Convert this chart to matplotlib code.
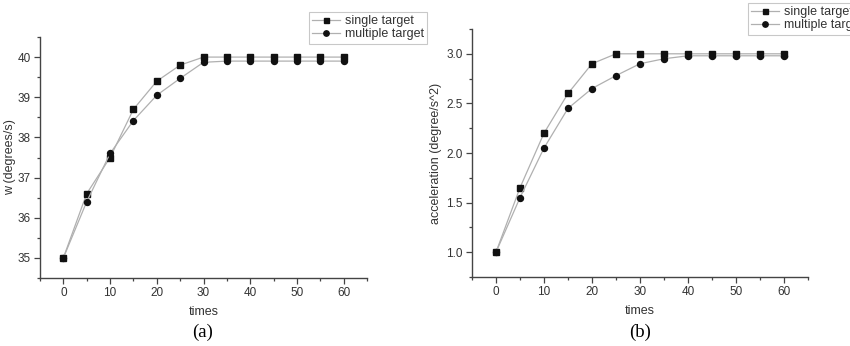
import matplotlib
matplotlib.use("Agg")
import matplotlib.pyplot as plt
from matplotlib.ticker import MultipleLocator

plt.rcParams['font.family'] = ['Liberation Sans', 'DejaVu Sans']

times = [0, 5, 10, 15, 20, 25, 30, 35, 40, 45, 50, 55, 60]
w_single = [35.0, 36.6, 37.5, 38.7, 39.4, 39.8, 40.0, 40.0, 40.0, 40.0, 40.0, 40.0, 40.0]
w_multiple = [35.0, 36.4, 37.6, 38.42, 39.05, 39.47, 39.87, 39.9, 39.9, 39.9, 39.9, 39.9, 39.9]
acc_single = [1.0, 1.65, 2.2, 2.6, 2.9, 3.0, 3.0, 3.0, 3.0, 3.0, 3.0, 3.0, 3.0]
acc_multiple = [1.0, 1.55, 2.05, 2.45, 2.65, 2.78, 2.9, 2.95, 2.98, 2.98, 2.98, 2.98, 2.98]
labels = ["single target", "multiple target"]

fig = plt.figure(figsize=(8.5, 3.46), dpi=100)
ax1 = fig.add_axes([40/850, 1-278/346, (367-40)/850, (278-37)/346])
ax2 = fig.add_axes([472/850, 1-277/346, (808-472)/850, (277-29)/346])

line_c = "#b0b0b0"
spine_c = "#444444"
text_c = "#333333"

def style(ax, ylim, ymaj, ymin):
    ax.set_xlim(-5, 65)
    ax.set_ylim(*ylim)
    for s in ["top", "right"]:
        ax.spines[s].set_visible(False)
    for s in ["left", "bottom"]:
        ax.spines[s].set_color(spine_c)
        ax.spines[s].set_linewidth(1.0)
    ax.xaxis.set_major_locator(MultipleLocator(10))
    ax.xaxis.set_minor_locator(MultipleLocator(5))
    ax.yaxis.set_major_locator(MultipleLocator(ymaj))
    ax.yaxis.set_minor_locator(MultipleLocator(ymin))
    ax.tick_params(which="major", direction="out", length=4, width=0.9, color=spine_c,
                   labelsize=8.5, labelcolor=text_c, pad=2.5)
    ax.tick_params(which="minor", direction="out", length=2.5, width=0.9, color=spine_c)

def draw(ax, s, m):
    l1, = ax.plot(times, s, color=line_c, lw=0.9, marker="s", ms=4,
                  mfc="#111111", mec="#111111", label=labels[0])
    l2, = ax.plot(times, m, color=line_c, lw=0.9, marker="o", ms=4.3,
                  mfc="#111111", mec="#111111", label=labels[1])
    return l1, l2

h1 = draw(ax1, w_single, w_multiple)
style(ax1, (34.5, 40.5), 1, 0.5)
ax1.set_yticks([35, 36, 37, 38, 39, 40])
ax1.set_xlabel("times", fontsize=9, color=text_c, labelpad=5)
ax1.set_ylabel("w (degrees/s)", fontsize=9, color=text_c, labelpad=1)

h2 = draw(ax2, acc_single, acc_multiple)
style(ax2, (0.75, 3.25), 0.5, 0.25)
ax2.set_yticks([1.0, 1.5, 2.0, 2.5, 3.0])
ax2.set_xlabel("times", fontsize=9, color=text_c, labelpad=5)
ax2.set_ylabel("acceleration (degree/s^2)", fontsize=9, color=text_c, labelpad=3)

legkw = dict(fontsize=9, frameon=True, fancybox=False, edgecolor="#bbbbbb",
             handlelength=2.2, handletextpad=0.4, borderpad=0.25, labelspacing=0.1,
             markerscale=0.9, borderaxespad=0)
leg1 = fig.legend(h1, labels, loc="upper left", bbox_to_anchor=(309/850, 1-12/346), **legkw)
leg2 = fig.legend(h2, labels, loc="upper left", bbox_to_anchor=(748/850, 1-3/346), **legkw)
for lg in (leg1, leg2):
    lg.get_frame().set_linewidth(0.8)
    for t in lg.get_texts():
        t.set_color(text_c)

fig.text(203/850, 1-332/346, "(a)", ha="center", va="center", fontsize=13.5, family="Liberation Serif")
fig.text(640/850, 1-332/346, "(b)", ha="center", va="center", fontsize=13.5, family="Liberation Serif")

fig.savefig("out.png", dpi=100)
